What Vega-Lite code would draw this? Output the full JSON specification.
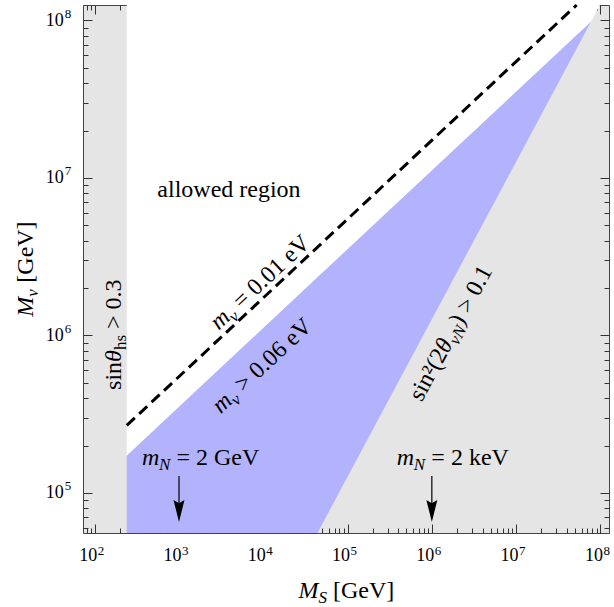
{
  "$schema": "https://vega.github.io/schema/vega-lite/v6.json",
  "width": 526,
  "height": 528,
  "autosize": {"type": "none"},
  "padding": {"left": 83, "top": 5, "right": 5, "bottom": 74},
  "config": {
    "view": {"fill": "#e5e5e5", "stroke": "#444444", "strokeWidth": 1},
    "text": {"font": "Liberation Serif", "color": "black"}
  },
  "datasets": {
    "white": [
      {"ms": 239.9, "lo": 172580, "hi": 125310000},
      {"ms": 77270000, "lo": 97950000, "hi": 125310000},
      {"ms": 98860000, "lo": 125310000, "hi": 125310000}
    ],
    "blue": [
      {"ms": 239.9, "lo": 55719, "hi": 172580},
      {"ms": 43954, "lo": 55719, "hi": 2339000},
      {"ms": 77270000, "lo": 97950000, "hi": 97950000}
    ],
    "dashed": [
      {"ms": 239.9, "mnu": 268500},
      {"ms": 52240000, "mnu": 125310000}
    ],
    "arrows": [
      {"ms": 1000, "top": 128000, "bot": 83950, "head": 76900},
      {"ms": 1000000, "top": 128000, "bot": 83950, "head": 76900}
    ],
    "xexp": [
      {"v": 100, "e": "2"}, {"v": 1000, "e": "3"}, {"v": 10000, "e": "4"}, {"v": 100000, "e": "5"},
      {"v": 1000000, "e": "6"}, {"v": 10000000, "e": "7"}, {"v": 100000000, "e": "8"}
    ],
    "yexp": [
      {"v": 100000, "e": "5"}, {"v": 1000000, "e": "6"}, {"v": 10000000, "e": "7"}, {"v": 100000000, "e": "8"}
    ]
  },
  "resolve": {"axis": {"x": "independent", "y": "independent"}},
  "layer": [
    {
      "data": {"name": "white"},
      "mark": {"type": "area", "orient": "vertical", "color": "#ffffff", "opacity": 1},
      "encoding": {
        "x": {"field": "ms", "type": "quantitative",
          "scale": {"type": "log", "domain": [72.61, 126470000], "nice": false},
          "axis": {"orient": "bottom", "title": null, "grid": false, "domain": false, "labels": false,
            "values": [80,90,100,200,300,400,500,600,700,800,900,1000,2000,3000,4000,5000,6000,7000,8000,9000,10000,20000,30000,40000,50000,60000,70000,80000,90000,100000,200000,300000,400000,500000,600000,700000,800000,900000,1000000,2000000,3000000,4000000,5000000,6000000,7000000,8000000,9000000,10000000,20000000,30000000,40000000,50000000,60000000,70000000,80000000,90000000,100000000],
            "tickColor": "#333333", "tickWidth": 1,
            "tickSize": {"condition": {"test": "abs(log(datum.value)/LN10 - round(log(datum.value)/LN10)) < 0.001", "value": -9}, "value": -5}}},
        "y": {"field": "lo", "type": "quantitative",
          "scale": {"type": "log", "domain": [55719, 125310000], "nice": false},
          "axis": {"orient": "left", "title": null, "grid": false, "domain": false, "labels": false,
            "values": [60000,70000,80000,90000,100000,200000,300000,400000,500000,600000,700000,800000,900000,1000000,2000000,3000000,4000000,5000000,6000000,7000000,8000000,9000000,10000000,20000000,30000000,40000000,50000000,60000000,70000000,80000000,90000000,100000000],
            "tickColor": "#333333", "tickWidth": 1,
            "tickSize": {"condition": {"test": "abs(log(datum.value)/LN10 - round(log(datum.value)/LN10)) < 0.001", "value": -9}, "value": -5}}},
        "y2": {"field": "hi"}
      }
    },
    {
      "data": {"name": "blue"},
      "mark": {"type": "area", "orient": "vertical", "color": "#b3b3fd", "opacity": 1},
      "encoding": {
        "x": {"field": "ms", "type": "quantitative", "axis": null},
        "y": {"field": "lo", "type": "quantitative", "axis": null},
        "y2": {"field": "hi"}
      }
    },
    {
      "data": {"name": "dashed"},
      "mark": {"type": "line", "color": "black", "strokeWidth": 3, "strokeDash": [11, 6]},
      "encoding": {
        "x": {"field": "ms", "type": "quantitative",
          "axis": {"orient": "top", "title": null, "grid": false, "domain": false, "labels": false,
            "values": [80,90,100,200,300,400,500,600,700,800,900,1000,2000,3000,4000,5000,6000,7000,8000,9000,10000,20000,30000,40000,50000,60000,70000,80000,90000,100000,200000,300000,400000,500000,600000,700000,800000,900000,1000000,2000000,3000000,4000000,5000000,6000000,7000000,8000000,9000000,10000000,20000000,30000000,40000000,50000000,60000000,70000000,80000000,90000000,100000000],
            "tickColor": "#333333", "tickWidth": 1,
            "tickSize": {"condition": {"test": "abs(log(datum.value)/LN10 - round(log(datum.value)/LN10)) < 0.001", "value": -9}, "value": -5}}},
        "y": {"field": "mnu", "type": "quantitative",
          "axis": {"orient": "right", "title": null, "grid": false, "domain": false, "labels": false,
            "values": [60000,70000,80000,90000,100000,200000,300000,400000,500000,600000,700000,800000,900000,1000000,2000000,3000000,4000000,5000000,6000000,7000000,8000000,9000000,10000000,20000000,30000000,40000000,50000000,60000000,70000000,80000000,90000000,100000000],
            "tickColor": "#333333", "tickWidth": 1,
            "tickSize": {"condition": {"test": "abs(log(datum.value)/LN10 - round(log(datum.value)/LN10)) < 0.001", "value": -9}, "value": -5}}}
      }
    },
    {
      "data": {"name": "arrows"},
      "mark": {"type": "rule", "color": "black", "strokeWidth": 1.2},
      "encoding": {
        "x": {"field": "ms", "type": "quantitative", "axis": null},
        "y": {"field": "top", "type": "quantitative", "axis": null},
        "y2": {"field": "bot"}
      }
    },
    {
      "data": {"name": "arrows"},
      "mark": {"type": "point", "shape": "M0,1L-0.5,-1L0,-0.7L0.5,-1Z", "filled": true, "color": "black", "opacity": 1, "size": 484, "strokeWidth": 0},
      "encoding": {
        "x": {"field": "ms", "type": "quantitative", "axis": null},
        "y": {"field": "head", "type": "quantitative", "axis": null}
      }
    },
    {
      "data": {"name": "xexp"},
      "mark": {"type": "text", "fontSize": 18, "align": "center", "baseline": "alphabetic", "dx": -6.5, "dy": 28, "text": "10"},
      "encoding": {
        "x": {"field": "v", "type": "quantitative", "axis": null},
        "y": {"datum": 55719, "type": "quantitative", "axis": null}
      }
    },
    {
      "data": {"name": "xexp"},
      "mark": {"type": "text", "fontSize": 13, "align": "left", "baseline": "alphabetic", "dx": 3, "dy": 22},
      "encoding": {
        "x": {"field": "v", "type": "quantitative", "axis": null},
        "y": {"datum": 55719, "type": "quantitative", "axis": null},
        "text": {"field": "e"}
      }
    },
    {
      "data": {"name": "yexp"},
      "mark": {"type": "text", "fontSize": 18, "align": "right", "baseline": "alphabetic", "dy": 5.5, "text": "10"},
      "encoding": {
        "x": {"datum": 43.02, "type": "quantitative", "axis": null},
        "y": {"field": "v", "type": "quantitative", "axis": null}
      }
    },
    {
      "data": {"name": "yexp"},
      "mark": {"type": "text", "fontSize": 13, "align": "left", "baseline": "alphabetic", "dy": -2.5},
      "encoding": {
        "x": {"datum": 44.2, "type": "quantitative", "axis": null},
        "y": {"field": "v", "type": "quantitative", "axis": null},
        "text": {"field": "e"}
      }
    },
    {
      "data": {"values": [{}]},
      "mark": {"type": "text", "fontSize": 24, "align": "center", "baseline": "alphabetic", "text": "allowed region"},
      "encoding": {"x": {"datum": 3917, "type": "quantitative", "axis": null}, "y": {"datum": 7568000, "type": "quantitative", "axis": null}}
    },
    {
      "data": {"values": [{}]},
      "mark": {"type": "text", "fontSize": 24, "fontStyle": "italic", "align": "left", "baseline": "alphabetic", "text": "m"},
      "encoding": {"x": {"datum": 364, "type": "quantitative", "axis": null}, "y": {"datum": 150600, "type": "quantitative", "axis": null}}
    },
    {
      "data": {"values": [{}]},
      "mark": {"type": "text", "fontSize": 17, "fontStyle": "italic", "align": "left", "baseline": "alphabetic", "dx": 17, "dy": 5, "text": "N"},
      "encoding": {"x": {"datum": 364, "type": "quantitative", "axis": null}, "y": {"datum": 150600, "type": "quantitative", "axis": null}}
    },
    {
      "data": {"values": [{}]},
      "mark": {"type": "text", "fontSize": 24, "align": "left", "baseline": "alphabetic", "dx": 34.5, "text": "= 2 GeV"},
      "encoding": {"x": {"datum": 364, "type": "quantitative", "axis": null}, "y": {"datum": 150600, "type": "quantitative", "axis": null}}
    },
    {
      "data": {"values": [{}]},
      "mark": {"type": "text", "fontSize": 24, "fontStyle": "italic", "align": "left", "baseline": "alphabetic", "text": "m"},
      "encoding": {"x": {"datum": 384600, "type": "quantitative", "axis": null}, "y": {"datum": 150600, "type": "quantitative", "axis": null}}
    },
    {
      "data": {"values": [{}]},
      "mark": {"type": "text", "fontSize": 17, "fontStyle": "italic", "align": "left", "baseline": "alphabetic", "dx": 17, "dy": 5, "text": "N"},
      "encoding": {"x": {"datum": 384600, "type": "quantitative", "axis": null}, "y": {"datum": 150600, "type": "quantitative", "axis": null}}
    },
    {
      "data": {"values": [{}]},
      "mark": {"type": "text", "fontSize": 24, "align": "left", "baseline": "alphabetic", "dx": 34.5, "text": "= 2 keV"},
      "encoding": {"x": {"datum": 384600, "type": "quantitative", "axis": null}, "y": {"datum": 150600, "type": "quantitative", "axis": null}}
    },
    {
      "data": {"values": [{}]},
      "mark": {"type": "text", "fontSize": 24, "align": "left", "baseline": "alphabetic", "angle": 270, "text": "sin"},
      "encoding": {"x": {"datum": 206.5, "type": "quantitative", "axis": null}, "y": {"datum": 451000, "type": "quantitative", "axis": null}}
    },
    {
      "data": {"values": [{}]},
      "mark": {"type": "text", "fontSize": 24, "fontStyle": "italic", "align": "left", "baseline": "alphabetic", "angle": 270, "dx": 28, "text": "θ"},
      "encoding": {"x": {"datum": 206.5, "type": "quantitative", "axis": null}, "y": {"datum": 451000, "type": "quantitative", "axis": null}}
    },
    {
      "data": {"values": [{}]},
      "mark": {"type": "text", "fontSize": 17, "align": "left", "baseline": "alphabetic", "angle": 270, "dx": 40, "dy": 5, "text": "hs"},
      "encoding": {"x": {"datum": 206.5, "type": "quantitative", "axis": null}, "y": {"datum": 451000, "type": "quantitative", "axis": null}}
    },
    {
      "data": {"values": [{}]},
      "mark": {"type": "text", "fontSize": 24, "align": "left", "baseline": "alphabetic", "angle": 270, "dx": 61, "text": "> 0.3"},
      "encoding": {"x": {"datum": 206.5, "type": "quantitative", "axis": null}, "y": {"datum": 451000, "type": "quantitative", "axis": null}}
    },
    {
      "data": {"values": [{}]},
      "mark": {"type": "text", "fontSize": 24, "fontStyle": "italic", "align": "left", "baseline": "alphabetic", "angle": 317, "text": "m"},
      "encoding": {"x": {"datum": 2971, "type": "quantitative", "axis": null}, "y": {"datum": 1069600, "type": "quantitative", "axis": null}}
    },
    {
      "data": {"values": [{}]},
      "mark": {"type": "text", "fontSize": 17, "fontStyle": "italic", "align": "left", "baseline": "alphabetic", "angle": 317, "dx": 17, "dy": 5, "text": "ν"},
      "encoding": {"x": {"datum": 2971, "type": "quantitative", "axis": null}, "y": {"datum": 1069600, "type": "quantitative", "axis": null}}
    },
    {
      "data": {"values": [{}]},
      "mark": {"type": "text", "fontSize": 24, "align": "left", "baseline": "alphabetic", "angle": 317, "dx": 31, "text": "= 0.01 eV"},
      "encoding": {"x": {"datum": 2971, "type": "quantitative", "axis": null}, "y": {"datum": 1069600, "type": "quantitative", "axis": null}}
    },
    {
      "data": {"values": [{}]},
      "mark": {"type": "text", "fontSize": 24, "fontStyle": "italic", "align": "left", "baseline": "alphabetic", "angle": 317, "text": "m"},
      "encoding": {"x": {"datum": 3137, "type": "quantitative", "axis": null}, "y": {"datum": 316700, "type": "quantitative", "axis": null}}
    },
    {
      "data": {"values": [{}]},
      "mark": {"type": "text", "fontSize": 17, "fontStyle": "italic", "align": "left", "baseline": "alphabetic", "angle": 317, "dx": 17, "dy": 5, "text": "ν"},
      "encoding": {"x": {"datum": 3137, "type": "quantitative", "axis": null}, "y": {"datum": 316700, "type": "quantitative", "axis": null}}
    },
    {
      "data": {"values": [{}]},
      "mark": {"type": "text", "fontSize": 24, "align": "left", "baseline": "alphabetic", "angle": 317, "dx": 31, "text": "> 0.06 eV"},
      "encoding": {"x": {"datum": 3137, "type": "quantitative", "axis": null}, "y": {"datum": 316700, "type": "quantitative", "axis": null}}
    },
    {
      "data": {"values": [{}]},
      "mark": {"type": "text", "fontSize": 24, "align": "left", "baseline": "alphabetic", "angle": 298.3, "text": "sin²(2"},
      "encoding": {"x": {"datum": 758600, "type": "quantitative", "axis": null}, "y": {"datum": 375000, "type": "quantitative", "axis": null}}
    },
    {
      "data": {"values": [{}]},
      "mark": {"type": "text", "fontSize": 24, "fontStyle": "italic", "align": "left", "baseline": "alphabetic", "angle": 298.3, "dx": 55, "text": "θ"},
      "encoding": {"x": {"datum": 758600, "type": "quantitative", "axis": null}, "y": {"datum": 375000, "type": "quantitative", "axis": null}}
    },
    {
      "data": {"values": [{}]},
      "mark": {"type": "text", "fontSize": 17, "fontStyle": "italic", "align": "left", "baseline": "alphabetic", "angle": 298.3, "dx": 67, "dy": 5, "text": "νN"},
      "encoding": {"x": {"datum": 758600, "type": "quantitative", "axis": null}, "y": {"datum": 375000, "type": "quantitative", "axis": null}}
    },
    {
      "data": {"values": [{}]},
      "mark": {"type": "text", "fontSize": 24, "align": "left", "baseline": "alphabetic", "angle": 298.3, "dx": 86, "text": ") > 0.1"},
      "encoding": {"x": {"datum": 758600, "type": "quantitative", "axis": null}, "y": {"datum": 375000, "type": "quantitative", "axis": null}}
    },
    {
      "data": {"values": [{}]},
      "mark": {"type": "text", "fontSize": 24, "fontStyle": "italic", "align": "left", "baseline": "alphabetic", "text": "M"},
      "encoding": {"x": {"datum": 26180, "type": "quantitative", "axis": null}, "y": {"datum": 21450, "type": "quantitative", "axis": null}}
    },
    {
      "data": {"values": [{}]},
      "mark": {"type": "text", "fontSize": 17, "fontStyle": "italic", "align": "left", "baseline": "alphabetic", "dx": 20, "dy": 5, "text": "S"},
      "encoding": {"x": {"datum": 26180, "type": "quantitative", "axis": null}, "y": {"datum": 21450, "type": "quantitative", "axis": null}}
    },
    {
      "data": {"values": [{}]},
      "mark": {"type": "text", "fontSize": 24, "align": "left", "baseline": "alphabetic", "dx": 34.5, "text": "[GeV]"},
      "encoding": {"x": {"datum": 26180, "type": "quantitative", "axis": null}, "y": {"datum": 21450, "type": "quantitative", "axis": null}}
    },
    {
      "data": {"values": [{}]},
      "mark": {"type": "text", "fontSize": 24, "fontStyle": "italic", "align": "left", "baseline": "alphabetic", "angle": 270, "text": "M"},
      "encoding": {"x": {"datum": 18.7, "type": "quantitative", "axis": null}, "y": {"datum": 1316000, "type": "quantitative", "axis": null}}
    },
    {
      "data": {"values": [{}]},
      "mark": {"type": "text", "fontSize": 17, "fontStyle": "italic", "align": "left", "baseline": "alphabetic", "angle": 270, "dx": 20, "dy": 5, "text": "ν"},
      "encoding": {"x": {"datum": 18.7, "type": "quantitative", "axis": null}, "y": {"datum": 1316000, "type": "quantitative", "axis": null}}
    },
    {
      "data": {"values": [{}]},
      "mark": {"type": "text", "fontSize": 24, "align": "left", "baseline": "alphabetic", "angle": 270, "dx": 34, "text": "[GeV]"},
      "encoding": {"x": {"datum": 18.7, "type": "quantitative", "axis": null}, "y": {"datum": 1316000, "type": "quantitative", "axis": null}}
    }
  ]
}
